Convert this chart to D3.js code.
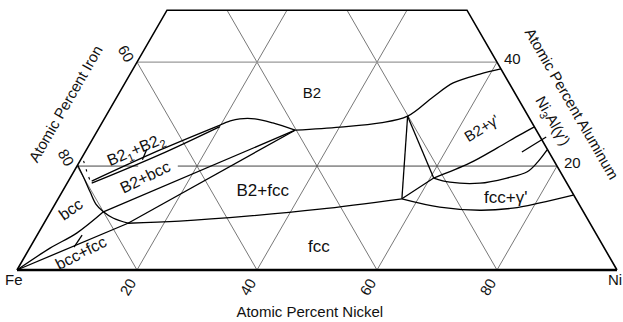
<!DOCTYPE html>
<html>
<head>
<meta charset="utf-8">
<script src="https://cdn.jsdelivr.net/npm/d3@7"></script>
<style>
  html, body { margin: 0; padding: 0; background: #fff; }
  svg { display: block; }
  text { font-family: "Liberation Sans", Arial, Helvetica, sans-serif; fill: #111; }
</style>
</head>
<body>
<svg id="chart" width="623" height="322"></svg>
<script>
// Fe–Ni–Al isothermal section, compositions as [at.% Ni, at.% Al]
const gridLevels = [20, 40, 60, 80];
const tickLabels = ["20", "40", "60", "80"];
const maxAl = 50;                       // section is cut at 50 at.% Al

// phase boundaries
const bccBoundary   = [[0, 20.2], [2.3, 17.7], [4.7, 15.0], [6.8, 12.7], [8.8, 11.2], [11.0, 10.0], [14.0, 9.0]];
const bccOrdering   = [[0.6, 21.0], [2.2, 18.9], [3.9, 16.8]];
const bccFccUpper   = [[0, 0], [3.4, 4.2], [6.4, 7.1], [8.8, 11.2]];
const bccFccLower   = [[0, 0], [14.0, 9.0]];
const tieBccB2      = [[8.8, 11.2], [32.9, 26.9]];
const tieFccB2      = [[14.0, 9.0], [32.9, 26.9]];
const fccB2Boundary = [[14.0, 9.0], [22.4, 9.4], [33.6, 10.4], [44.6, 11.7], [57.3, 13.7]];
const fccGpBoundary = [[57.3, 13.7], [64.4, 12.1], [71.4, 11.5], [76.7, 11.9], [80.7, 12.9], [85.5, 14.4]];
const gpLower       = [[60.6, 17.7], [63.7, 16.9], [68.8, 16.7], [72.8, 17.7], [75.6, 18.9], [76.4, 20.8], [76.8, 23.1]];
const gpUpper       = [[60.6, 17.7], [65.2, 20.6], [68.3, 23.5], [70.8, 26.0], [72.4, 27.5]];
const tieB2Fcc      = [[57.3, 13.7], [50.3, 29.6]];
const tieB2Gp       = [[50.3, 29.6], [60.6, 17.7]];
const tieFccGp      = [[57.3, 13.7], [60.6, 17.7]];
const b2Boundary    = [[32.9, 26.9], [40.1, 27.5], [46.4, 28.3], [50.3, 29.6], [52.7, 33.3], [54.7, 36.0], [58.3, 37.7], [61.3, 38.7]];
const b2Bump        = [[19.9, 27.9], [21.2, 28.7], [22.6, 29.1], [25.1, 29.1], [28.5, 28.3], [32.9, 26.9]];
const lensUpper     = [[3.9, 17.1], [12.3, 23.1], [19.9, 27.9]];
const lensLower     = [[4.1, 16.7], [12.7, 22.2], [20.0, 27.6]];

// label leader lines
const leaderB2B2    = [[10.3, 21.2], [10.0, 23.3]];
const leaderBccFcc  = [[7.3, 4.4], [7.5, 6.7]];
const leaderNi3Al   = [[72.8, 22.7], [75.4, 25.6]];

// break in the 20 at.% Al grid line around the B2+bcc label (at.% Ni)
const al20Gap = [10.2, 16.8];

// phase field names and where they sit
const phaseNames = ["B2", "B2+fcc", "fcc", "fcc+γ'", "B2+γ'", "B2+bcc", "bcc", "bcc+fcc"];
const phaseAt    = [[32.1, 34.1], [33.3, 15.3], [48.0, 4.6], [74.4, 14.1], [63.8, 27.3], [12.4, 17.9], [3.1, 11.7], [9.0, 3.3]];

const svg = d3.select("#chart");

// ternary projection: x from (Ni + Al/2), y from Al
const x = d3.scaleLinear().domain([0, 100]).range([17, 617]);
const y = d3.scaleLinear().domain([0, 100]).range([270, 270 - 600 * Math.sqrt(3) / 2]);
const proj = ([ni, al]) => [x(ni + al / 2), y(al)];

const straight = d3.line().x(d => proj(d)[0]).y(d => proj(d)[1]);
const smooth = d3.line().x(d => proj(d)[0]).y(d => proj(d)[1]).curve(d3.curveCatmullRom.alpha(0.5));

// grid
const grid = svg.append("g").attr("fill", "none");
gridLevels.forEach(v => {
  // constant Ni
  const topNi = Math.min(maxAl, 100 - v);
  grid.append("path").attr("d", straight([[v, 0], [v, topNi]]))
    .attr("stroke", "#555").attr("stroke-width", 0.8);
  // constant Fe
  const n = 100 - v;
  const topFe = Math.min(maxAl, n);
  grid.append("path").attr("d", straight([[n, 0], [n - topFe, topFe]]))
    .attr("stroke", "#555").attr("stroke-width", 0.8);
});
// constant Al
grid.append("path").attr("d", straight([[0, 20], [al20Gap[0], 20]]))
  .attr("stroke", "#444").attr("stroke-width", 1);
grid.append("path").attr("d", straight([[al20Gap[1], 20], [80, 20]]))
  .attr("stroke", "#444").attr("stroke-width", 1);
grid.append("path").attr("d", straight([[0, 40], [60, 40]]))
  .attr("stroke", "#9a9a9a").attr("stroke-width", 1.4);

// outline of the section
svg.append("path")
  .attr("d", straight([[0, 0], [0, maxAl], [maxAl, maxAl], [100, 0]]))
  .attr("fill", "none").attr("stroke", "#000").attr("stroke-width", 1.6)
  .attr("stroke-linejoin", "miter");
svg.append("path")
  .attr("d", straight([[0, 0], [100, 0]]))
  .attr("stroke", "#000").attr("stroke-width", 2.6);

// phase boundaries
const bounds = svg.append("g").attr("fill", "none").attr("stroke", "#000")
  .attr("stroke-width", 1.3).attr("stroke-linejoin", "round");
[bccBoundary, bccFccUpper, fccB2Boundary, fccGpBoundary, gpLower, gpUpper, b2Boundary, b2Bump, lensUpper, lensLower]
  .forEach(c => bounds.append("path").attr("d", smooth(c)));
[bccFccLower, tieBccB2, tieFccB2, tieB2Fcc, tieB2Gp, tieFccGp, leaderB2B2, leaderBccFcc, leaderNi3Al]
  .forEach(c => bounds.append("path").attr("d", straight(c)));
bounds.append("path").attr("d", smooth(bccOrdering))
  .attr("stroke-dasharray", "2.5,6").attr("stroke-width", 1.1);

// phase field labels
const labelStyle = [
  { size: 15, rot: 0 }, { size: 17, rot: 0 }, { size: 17, rot: 0 }, { size: 17, rot: 0 },
  { size: 15, rot: -32 }, { size: 16, rot: -26 }, { size: 16, rot: -35 }, { size: 16, rot: -27 }
];
phaseNames.forEach((name, i) => {
  const [px, py] = proj(phaseAt[i]);
  svg.append("text")
    .attr("transform", `translate(${px},${py}) rotate(${labelStyle[i].rot})`)
    .attr("text-anchor", "middle").attr("dy", "0.35em")
    .attr("font-size", labelStyle[i].size)
    .text(name);
});

// B2(1)+B2(2) miscibility gap label
{
  const [px, py] = proj([8.3, 23.1]);
  const t = svg.append("text")
    .attr("transform", `translate(${px},${py}) rotate(-23)`)
    .attr("text-anchor", "middle").attr("dy", "0.3em").attr("font-size", 16);
  t.append("tspan").text("B2");
  t.append("tspan").attr("font-size", 11).attr("dy", 4).text("1");
  t.append("tspan").attr("dy", -4).text("+B2");
  t.append("tspan").attr("font-size", 11).attr("dy", 4).text("2");
}

// Ni3Al (γ') label
{
  const [px, py] = proj([75.0, 28.7]);
  const t = svg.append("text")
    .attr("transform", `translate(${px},${py}) rotate(60)`)
    .attr("text-anchor", "middle").attr("dy", "0.35em").attr("font-size", 15);
  t.append("tspan").text("Ni");
  t.append("tspan").attr("font-size", 11).attr("dy", 4).text("3");
  t.append("tspan").attr("dy", -4).text("Al(γ')");
}

// tick labels: Ni along the base
gridLevels.forEach((v, i) => {
  const [px, py] = proj([v, 0]);
  svg.append("text")
    .attr("transform", `translate(${px - 9},${py + 17}) rotate(-60)`)
    .attr("text-anchor", "middle").attr("dy", "0.35em").attr("font-size", 15)
    .text(tickLabels[i]);
});
// Fe along the left side (60 and 80 only inside the section)
[60, 80].forEach(v => {
  const [px, py] = proj([0, 100 - v]);
  svg.append("text")
    .attr("transform", `translate(${px - 11},${py - 8.5}) rotate(60)`)
    .attr("text-anchor", "middle").attr("dy", "0.35em").attr("font-size", 15)
    .text(tickLabels[gridLevels.indexOf(v)]);
});
// Al along the right side
[20, 40].forEach(v => {
  const [px, py] = proj([100 - v, v]);
  svg.append("text")
    .attr("x", px + 7).attr("y", py - 3).attr("dy", "0.35em")
    .attr("font-size", 15)
    .text(tickLabels[gridLevels.indexOf(v)]);
});

// corner element symbols
{
  const [fx, fy] = proj([0, 0]);
  svg.append("text").attr("x", fx - 12).attr("y", fy + 15).attr("font-size", 15).text("Fe");
  const [nx, ny] = proj([100, 0]);
  svg.append("text").attr("x", nx - 9).attr("y", ny + 15).attr("font-size", 15).text("Ni");
}

// axis titles
{
  const [lx, ly] = proj([0, 32]);
  svg.append("text")
    .attr("transform", `translate(${lx - 41 / Math.sin(Math.PI / 3)},${ly}) rotate(-60)`)
    .attr("text-anchor", "middle").attr("dy", "0.35em").attr("font-size", 15)
    .text("Atomic Percent Iron");
  const [rx, ry] = proj([68, 32]);
  svg.append("text")
    .attr("transform", `translate(${rx + 44 / Math.sin(Math.PI / 3)},${ry}) rotate(60)`)
    .attr("text-anchor", "middle").attr("dy", "0.35em").attr("font-size", 15)
    .text("Atomic Percent Aluminum");
  svg.append("text")
    .attr("x", x(48.8)).attr("y", y(0) + 47)
    .attr("text-anchor", "middle").attr("font-size", 15)
    .text("Atomic Percent Nickel");
}
</script>
</body>
</html>
